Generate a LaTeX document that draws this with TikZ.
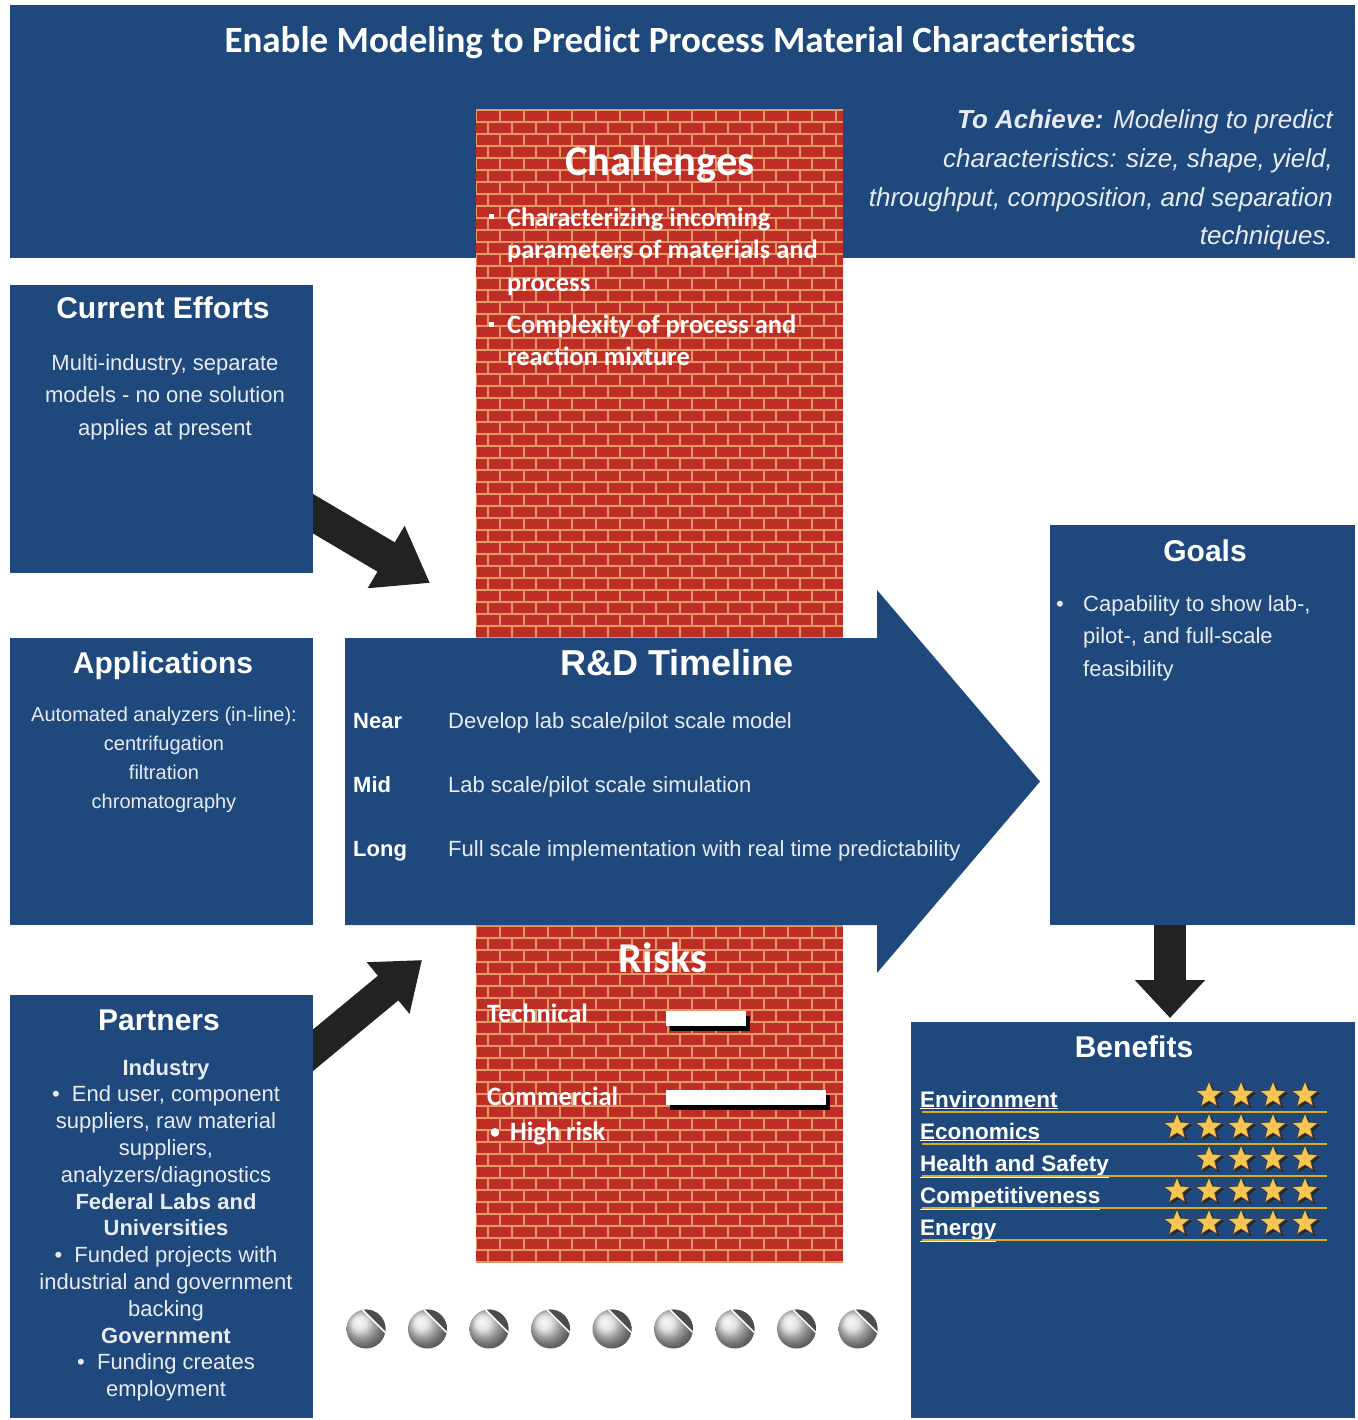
\documentclass[tikz,border=0pt]{standalone}
\usepackage{fontspec}
\setmainfont{Liberation Sans}
\newfontfamily\calfont{Carlito}
\usetikzlibrary{arrows.meta,shapes.geometric,shadows,positioning}

\definecolor{panelblue}{RGB}{31,73,125}
\definecolor{brickred}{RGB}{190,46,38}
\definecolor{mortar}{RGB}{228,150,100}
\definecolor{arrowblack}{RGB}{34,34,34}
\definecolor{softwhite}{RGB}{232,235,240}
\definecolor{stargold}{RGB}{248,198,80}
\definecolor{rulegold}{RGB}{214,172,44}

\tikzset{
  panel/.style={rectangle, fill=panelblue, inner sep=0pt},
  mortarline/.style={draw=mortar, line width=2.4pt},
  fatarrow/.style={draw=arrowblack, line width=#1},
  boxtitle/.style={text=white, font=\bfseries\fontsize{30}{34}\selectfont, anchor=base, inner sep=0pt},
  boxtext/.style={text=softwhite, font=\fontsize{22}{32.5}\selectfont, align=center, anchor=base, inner sep=0pt},
  calhead/.style={text=white, font=\calfont\bfseries\fontsize{42.5}{46}\selectfont, anchor=base, inner sep=0pt},
  caltext/.style={text=white, font=\calfont\bfseries\fontsize{26.5}{32.5}\selectfont, anchor=base west, inner sep=0pt, align=left},
  rdterm/.style={text=white, font=\bfseries\fontsize{22}{26}\selectfont, anchor=base west, inner sep=0pt},
  rdtext/.style={text=softwhite, font=\fontsize{22}{26}\selectfont, anchor=base west, inner sep=0pt},
  rating/.style={star, star points=5, star point ratio=2.3, minimum size=28pt, inner sep=0pt,
    fill=stargold, draw=black!75, line width=0.8pt,
    drop shadow={shadow xshift=2pt, shadow yshift=-2pt, fill=black!85, opacity=1}},
  benlabel/.style={text=white, font=\bfseries\fontsize{22.5}{24}\selectfont, anchor=base west, inner sep=0pt},
  goldrule/.style={draw=rulegold, line width=1.5pt},
  riskbar/.style={rectangle, fill=white, inner sep=0pt, minimum height=15pt,
    drop shadow={shadow xshift=4pt, shadow yshift=-5pt, fill=black, opacity=1}},
  screw/.style={circle, minimum size=39pt, inner sep=0pt, ball color=gray!30},
  screwslot/.style={fill=black!70},
}

\begin{document}
\begin{tikzpicture}[x=1pt,y=-1pt]
\useasboundingbox[fill=white] (0,0) rectangle (1357,1420);

    % top banner
    \node[panel, minimum width=1345pt, minimum height=253pt] (banner) at (682.5,131.5) {};

    % brick wall
    \begin{scope}
        \clip (476,110) rectangle (843,1262);
        \fill[brickred] (476,110) rectangle (843,1262);
        \foreach \r in {0,...,96}
            \draw[mortarline] (476,{110+12*\r}) -- ++(367,0);
        \foreach \r in {0,...,95}
            \foreach \c in {0,...,15}
                \draw[mortarline] ({476+24*\c+12*mod(\r,2)},{110+12*\r}) -- ++(0,12);
    \end{scope}

    % fat arrows
    \coordinate (effout) at (300,506);
    \coordinate (effin) at (430,583);
    \coordinate (partout) at (300,1061);
    \coordinate (partin) at (422,960);
    \coordinate (goalout) at (1170,918);
    \coordinate (benin) at (1170,1018);
    \draw[fatarrow=34pt, -{Triangle[length=51pt,width=69pt]}] (effout) -- (effin);
    \draw[fatarrow=32pt, -{Triangle[length=44pt,width=64pt]}] (partout) -- (partin);
    \draw[fatarrow=32pt, -{Triangle[length=38pt,width=68pt]}] (goalout) -- (benin);

    % panels
    \node[panel, minimum width=303pt, minimum height=288pt] (eff) at (161.5,429) {};
    \node[panel, minimum width=303pt, minimum height=287pt] (app) at (161.5,781.5) {};
    \node[panel, minimum width=303pt, minimum height=423pt] (part) at (161.5,1206.5) {};
    \node[panel, minimum width=305pt, minimum height=400pt] (goals) at (1202.5,725) {};
    \node[panel, minimum width=444pt, minimum height=396pt] (ben) at (1133,1220) {};

    % timeline arrow
    \fill[panelblue] (345,638) -- (877,638) -- (877,590) -- (1040,781.5)
        -- (877,973) -- (877,925) -- (345,925) -- cycle;

    % banner texts
    \node[text=white, font=\calfont\bfseries\fontsize{37}{40}\selectfont, anchor=base, inner sep=0pt] (title) at (680,53)
        {Enable Modeling to Predict Process Material Characteristics};
    \node[text=softwhite, font=\itshape\fontsize{26}{38.7}\selectfont, align=right, anchor=base east, inner sep=0pt] (achieve) at (1333,245)
        {\textbf{To Achieve:} Modeling to predict\\characteristics: size, shape, yield,\\throughput, composition, and separation\\techniques.};

    % challenges
    \node[calhead] (chtitle) at (660,176) {Challenges};
    \node[fill=white, minimum size=5pt, inner sep=0pt] (chb1) at (491,217) {};
    \node[fill=white, minimum size=5pt, inner sep=0pt] (chb2) at (491,324) {};
    \node[caltext] (ch1) at (507,291) {Characterizing incoming\\parameters of materials and\\process};
    \node[caltext] (ch2) at (507,365.5) {Complexity of process and\\reaction mixture};

    % left column
    \node[boxtitle] (efftitle) at (163,318) {Current Efforts};
    \node[boxtext] (efftext) at (165,435) {Multi-industry, separate\\models - no one solution\\applies at present};
    \node[boxtitle] (apptitle) at (163,673) {Applications};
    \node[boxtext, font=\fontsize{20}{29}\selectfont] (apptext) at (164,808)
        {Automated analyzers (in-line):\\centrifugation\\filtration\\chromatography};
    \node[boxtitle] (parttitle) at (159,1030) {Partners};
    \node[boxtext, font=\fontsize{22}{26.8}\selectfont] (parttext) at (166,1396.6)
        {\textbf{Industry}\\
         \textbullet\ \ End user, component\\
         suppliers, raw material\\
         suppliers,\\
         analyzers/diagnostics\\
         \textbf{Federal Labs and}\\
         \textbf{Universities}\\
         \textbullet\ \ Funded projects with\\
         industrial and government\\
         backing\\
         \textbf{Government}\\
         \textbullet\ \ Funding creates\\
         employment};

    % timeline
    \node[text=white, font=\bfseries\fontsize{36}{40}\selectfont, anchor=base, inner sep=0pt] (rdtitle) at (677,675) {R\&D Timeline};
    \node[rdterm] (near) at (353,728) {Near};
    \node[rdterm] (mid) at (353,792) {Mid};
    \node[rdterm] (long) at (353,856) {Long};
    \node[rdtext] (neartext) at (448,728) {Develop lab scale/pilot scale model};
    \node[rdtext] (midtext) at (448,792) {Lab scale/pilot scale simulation};
    \node[rdtext] (longtext) at (448,856) {Full scale implementation with real time predictability};

    % goals
    \node[boxtitle] (goaltitle) at (1205,561) {Goals};
    \node[rdtext] (goalbullet) at (1056,611) {\textbullet};
    \node[boxtext, align=left, anchor=base west] (goaltext) at (1083,676)
        {Capability to show lab-,\\pilot-, and full-scale\\feasibility};

    % risks
    \node[calhead] (risktitle) at (663,972) {Risks};
    \node[caltext] (tech) at (487,1022) {Technical};
    \node[caltext] (comm) at (487,1105) {Commercial};
    \node[caltext, font=\calfont\bfseries\fontsize{20}{24}\selectfont] (highbullet) at (490,1138) {\textbullet};
    \node[caltext] (high) at (510,1140) {High risk};
    \node[riskbar, minimum width=80pt, anchor=north west] (techbar) at (666,1011) {};
    \node[riskbar, minimum width=160pt, anchor=north west] (commbar) at (666,1090) {};

    % benefits
    \node[boxtitle] (bentitle) at (1134,1057) {Benefits};
    \foreach \lbl/\n [count=\k] in {Environment/4, Economics/5, Health and Safety/4, Competitiveness/5, Energy/5} {
        \node[benlabel] (ben\k) at (920,{1075+32*\k}) {\underline{\lbl}};
        \draw[goldrule] (922,{1080+32*\k}) -- (1327,{1080+32*\k});
        \foreach \s in {1,...,\n}
            \node[rating] (star\k-\s) at ({1337-32*\s},{1063+32*\k}) {};
    }

    % screws
    \foreach \i in {0,...,8} {
        \node[screw] (scr\i) at ({366+61.5*\i},1329) {};
        \fill[screwslot] ([shift={(-100:19.5)}]scr\i.center) arc[start angle=-100, end angle=10, radius=19.5] -- cycle;
        \draw[white, line width=1.5pt] ([shift={(-100:19.5)}]scr\i.center) -- ([shift={(10:19.5)}]scr\i.center);
    }

\end{tikzpicture}
\end{document}
